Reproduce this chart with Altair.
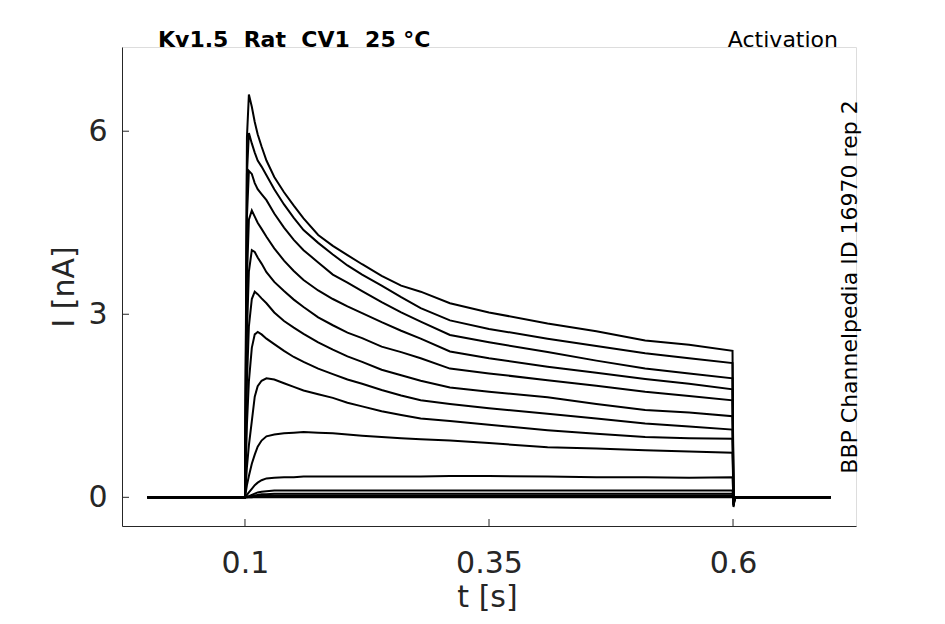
import altair as alt
import pandas as pd

# sample times (s)
times = [0.0, 0.1, 0.102, 0.104, 0.107, 0.11, 0.113, 0.117, 0.122, 0.13, 0.14, 0.15,
         0.16, 0.175, 0.19, 0.205, 0.22, 0.24, 0.26, 0.28, 0.31, 0.35, 0.41, 0.46,
         0.51, 0.555, 0.5995, 0.6005, 0.602, 0.7]

# currents (nA), one list per sweep
trace_1 = [0, 0, 5.9, 6.6, 6.4, 6.15, 5.95, 5.75, 5.52, 5.25, 5.0, 4.78, 4.57, 4.30, 4.12, 3.97,
           3.82, 3.63, 3.47, 3.37, 3.18, 3.03, 2.85, 2.72, 2.57, 2.50, 2.40, -0.16, 0.0, 0.0]
trace_2 = [0, 0, 5.3, 5.97, 5.8, 5.65, 5.52, 5.42, 5.28, 5.05, 4.8, 4.58, 4.38, 4.17, 3.98, 3.80,
           3.65, 3.47, 3.28, 3.10, 2.90, 2.76, 2.60, 2.48, 2.36, 2.28, 2.20, -0.14, 0.0, 0.0]
trace_3 = [0, 0, 4.6, 5.35, 5.3, 5.15, 5.05, 4.97, 4.87, 4.65, 4.42, 4.22, 4.05, 3.85, 3.65, 3.52,
           3.38, 3.20, 3.03, 2.88, 2.66, 2.54, 2.38, 2.24, 2.11, 2.03, 1.95, -0.13, 0.0, 0.0]
trace_4 = [0, 0, 3.6, 4.55, 4.7, 4.6, 4.5, 4.4, 4.27, 4.08, 3.88, 3.71, 3.56, 3.39, 3.25, 3.13,
           3.02, 2.87, 2.73, 2.60, 2.39, 2.28, 2.14, 2.04, 1.94, 1.86, 1.77, -0.12, 0.0, 0.0]
trace_5 = [0, 0, 2.7, 3.7, 4.05, 4.02, 3.93, 3.83, 3.69, 3.53, 3.38, 3.24, 3.12, 2.95, 2.82, 2.70,
           2.61, 2.47, 2.38, 2.28, 2.11, 2.03, 1.92, 1.83, 1.73, 1.66, 1.59, -0.11, 0.0, 0.0]
trace_6 = [0, 0, 1.9, 2.8, 3.25, 3.37, 3.33, 3.26, 3.18, 3.03, 2.89, 2.78, 2.68, 2.54, 2.42, 2.31,
           2.22, 2.09, 2.0, 1.91, 1.80, 1.73, 1.64, 1.53, 1.43, 1.39, 1.33, -0.10, 0.0, 0.0]
trace_7 = [0, 0, 1.2, 1.9, 2.45, 2.67, 2.71, 2.67, 2.60, 2.51, 2.40, 2.30, 2.22, 2.11, 2.02, 1.93,
           1.86, 1.76, 1.67, 1.59, 1.53, 1.46, 1.37, 1.29, 1.21, 1.16, 1.11, -0.09, 0.0, 0.0]
trace_8 = [0, 0, 0.5, 0.85, 1.25, 1.65, 1.82, 1.91, 1.95, 1.93, 1.87, 1.81, 1.75, 1.69, 1.63, 1.55,
           1.49, 1.41, 1.35, 1.29, 1.25, 1.19, 1.10, 1.04, 0.99, 0.97, 0.96, -0.08, 0.0, 0.0]
trace_9 = [0, 0, 0.2, 0.35, 0.55, 0.7, 0.83, 0.93, 1.0, 1.03, 1.05, 1.06, 1.07, 1.06, 1.05, 1.03,
           1.01, 0.99, 0.97, 0.95, 0.93, 0.89, 0.82, 0.80, 0.77, 0.75, 0.73, -0.07, 0.0, 0.0]
trace_10 = [0, 0, 0.04, 0.08, 0.14, 0.2, 0.24, 0.28, 0.31, 0.32, 0.33, 0.33, 0.34, 0.34, 0.34, 0.34,
            0.34, 0.34, 0.34, 0.34, 0.35, 0.35, 0.34, 0.33, 0.33, 0.32, 0.33, -0.05, 0.0, 0.0]
trace_11 = [0, 0, 0.01, 0.02, 0.04, 0.06, 0.08, 0.09, 0.10, 0.11, 0.11, 0.11, 0.11, 0.11, 0.11, 0.11,
            0.11, 0.11, 0.11, 0.11, 0.11, 0.11, 0.11, 0.11, 0.11, 0.11, 0.11, -0.04, 0.0, 0.0]
trace_12 = [0, 0, 0.01, 0.01, 0.02, 0.03, 0.04, 0.05, 0.05, 0.06, 0.06, 0.06, 0.06, 0.06, 0.06, 0.06,
            0.06, 0.06, 0.06, 0.06, 0.06, 0.06, 0.06, 0.06, 0.06, 0.06, 0.06, -0.03, 0.0, 0.0]
trace_13 = [0, 0, 0.0, 0.01, 0.01, 0.02, 0.02, 0.03, 0.03, 0.03, 0.03, 0.03, 0.03, 0.03, 0.03, 0.03,
            0.03, 0.03, 0.03, 0.03, 0.03, 0.03, 0.03, 0.03, 0.03, 0.03, 0.03, -0.02, 0.0, 0.0]
trace_14 = [0, 0, 0.0, 0.0, 0.0, 0.01, 0.01, 0.01, 0.01, 0.01, 0.01, 0.01, 0.01, 0.01, 0.01, 0.01,
            0.01, 0.01, 0.01, 0.01, 0.01, 0.01, 0.01, 0.01, 0.01, 0.01, 0.01, -0.01, 0.0, 0.0]
trace_15 = [0, 0, 0.0, 0.0, 0.0, 0.0, 0.0, 0.0, 0.0, 0.0, 0.0, 0.0, 0.0, 0.0, 0.0, 0.0,
            0.0, 0.0, 0.0, 0.0, 0.0, 0.0, 0.0, 0.0, 0.0, 0.0, 0.0, -0.01, 0.0, 0.0]

traces = [trace_1, trace_2, trace_3, trace_4, trace_5, trace_6, trace_7, trace_8,
          trace_9, trace_10, trace_11, trace_12, trace_13, trace_14, trace_15]

x_ticks = [0.1, 0.35, 0.6]
y_ticks = [0, 3, 6]

title_text = "Kv1.5\u00a0\u00a0Rat\u00a0\u00a0CV1\u00a0\u00a025\u00a0°C"
protocol_text = "Activation"
source_text = "BBP Channelpedia ID 16970 rep 2"

rows = []
for i, vals in enumerate(traces):
    for t, v in zip(times, vals):
        rows.append({"sweep": i, "t": t, "I": v})
df = pd.DataFrame(rows)

W, H = 734, 479
FONT = "DejaVu Sans"
TXT = "#262626"

xscale = alt.Scale(domain=[-0.026, 0.726], nice=False, zero=False)
yscale = alt.Scale(domain=[-0.47, 7.38], nice=False, zero=False)

lines = alt.Chart(df).mark_line(color="black", strokeWidth=2.0).encode(
    x=alt.X("t:Q", scale=xscale, title="t [s]",
            axis=alt.Axis(values=x_ticks, format="~g", grid=False, ticks=False,
                          labelPadding=22, labelFontSize=30, labelFont=FONT, labelColor=TXT,
                          domainColor=TXT, titleFontSize=30, titleFont=FONT,
                          titleFontWeight="normal", titleColor=TXT,
                          titleBaseline="alphabetic", titleY=80, titleX=W / 2 - 2)),
    y=alt.Y("I:Q", scale=yscale, title="I [nA]",
            axis=alt.Axis(values=y_ticks, format="d", grid=False, ticks=False,
                          labelPadding=15, labelFontSize=30, labelFont=FONT, labelColor=TXT,
                          domainColor=TXT, titleFontSize=30, titleFont=FONT,
                          titleFontWeight="normal", titleColor=TXT,
                          titleAngle=270, titleBaseline="alphabetic", titleAlign="center",
                          titleX=-49, titleY=H / 2)),
    detail="sweep:N",
    order="t:Q",
)

xt = alt.Chart(pd.DataFrame({"t": x_ticks})).mark_rule(color=TXT, strokeWidth=1).encode(
    x=alt.X("t:Q", scale=xscale), y=alt.value(H), y2=alt.value(H - 7))
yt = alt.Chart(pd.DataFrame({"I": y_ticks})).mark_rule(color=TXT, strokeWidth=1).encode(
    y=alt.Y("I:Q", scale=yscale), x=alt.value(0), x2=alt.value(7))

title = alt.Chart(pd.DataFrame({"s": [title_text]})).mark_text(
    font=FONT, fontSize=22, fontWeight="bold", color="black", align="left",
    baseline="alphabetic").encode(x=alt.value(36), y=alt.value(0), text="s:N")
proto = alt.Chart(pd.DataFrame({"s": [protocol_text]})).mark_text(
    font=FONT, fontSize=22, color="black", align="right",
    baseline="alphabetic").encode(x=alt.value(716), y=alt.value(0), text="s:N")
source = alt.Chart(pd.DataFrame({"s": [source_text]})).mark_text(
    font=FONT, fontSize=22, color="black", align="center", angle=270,
    baseline="alphabetic").encode(x=alt.value(735), y=alt.value(240), text="s:N")

chart = alt.layer(lines, xt, yt, title, proto, source).properties(
    width=W, height=H,
    autosize=alt.AutoSizeParams(type="none"),
    padding={"left": 114, "top": 39, "right": 80, "bottom": 90},
).configure_view(stroke=None).configure(background="white")

chart.save("out.html", embed_options={"renderer": "svg", "actions": False})
